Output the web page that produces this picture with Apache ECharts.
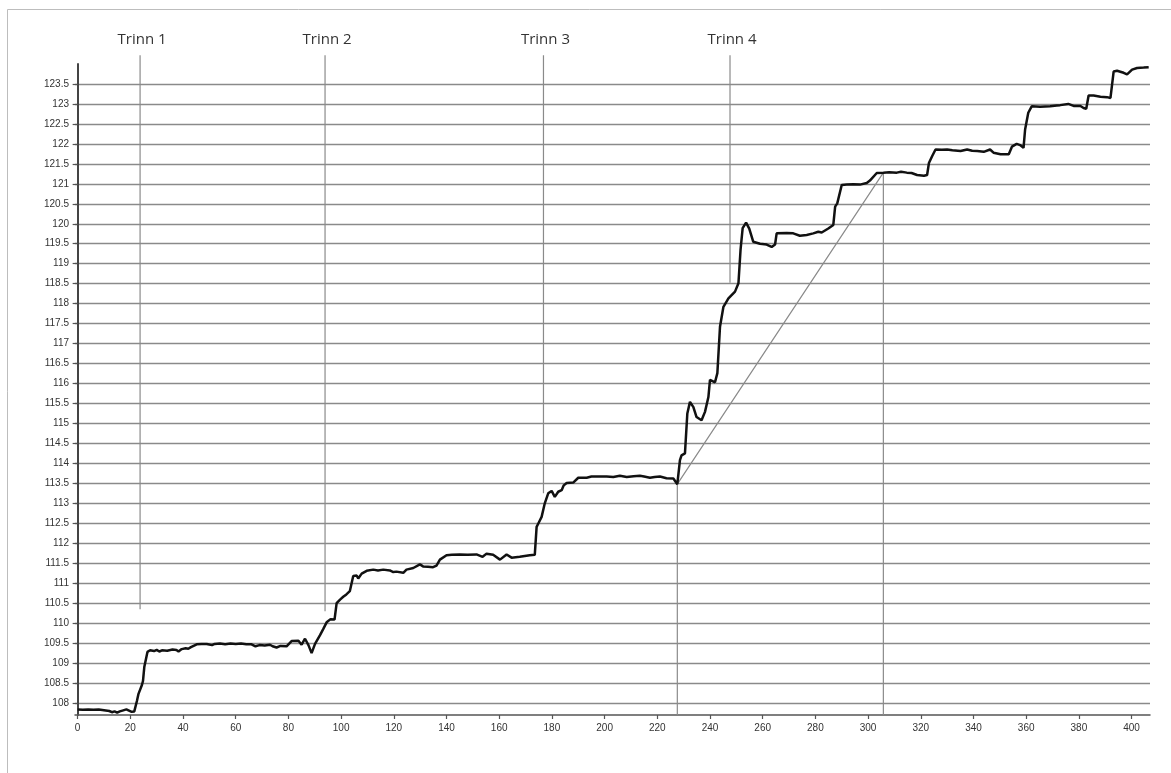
<!DOCTYPE html>
<html>
<head>
<meta charset="utf-8">
<title>Trinn</title>
<script src="https://cdn.jsdelivr.net/npm/echarts@6/dist/echarts.min.js"></script>
<style>
  html, body { margin: 0; padding: 0; background: #fff; }
  #chart { width: 1171px; height: 773px; }
</style>
</head>
<body>
<div id="chart"></div>
<script>
// Measured series: time (x) and reading (y)
const timeValues = [
  0, 2, 4, 6, 8, 10, 12, 13, 14, 15, 16, 17, 18.5, 19.5, 20.5, 21.5, 22.5, 23.1, 24.4, 24.8,
  25.3, 26.5, 27.5, 29, 30, 31, 32, 34, 36, 37.5, 38.3, 39.5, 41, 42, 43, 45.2, 47, 49, 51, 52,
  54, 56, 58, 60, 62, 64, 66, 67.5, 69, 71, 73, 74, 75.5, 77, 79.3, 81.2, 83.8, 85, 86.3, 87.6,
  88.8, 90.1, 92, 93.2, 94.5, 96, 97.5, 98.3, 99.6, 100.8, 102, 103.3, 104.6, 105.9, 106.5, 107.8, 109.7, 112.2, 114, 116,
  118.5, 119.8, 121, 123.6, 124.8, 127.4, 129.9, 131.1, 133, 134.9, 136.2, 137.5, 140, 142, 145, 148, 151.4, 153.7, 155.2, 157.7,
  160.3, 162.8, 164.7, 167.8, 171.6, 173.5, 174.2, 174.8, 176.1, 177.3, 178.6, 179.9, 181.1, 182.4, 183.7, 184.5, 185.6, 188.1, 190, 193.2,
  195, 198, 200.8, 203.3, 205.8, 208.4, 211, 213.4, 215, 217.2, 219, 221, 223.5, 226.1, 227.6, 228.6, 229.2, 230.5, 231.4, 232.4,
  233.7, 234.9, 236.8, 238.1, 239.4, 240, 241.9, 242.8, 243.8, 245.1, 247, 249.5, 250.8, 251.6, 252.4, 253.7, 254.9, 256.4, 259, 261.5,
  263.4, 264.7, 265.3, 269.1, 271.6, 274.1, 276.7, 279.2, 281.1, 282.4, 283, 284.9, 286.8, 287.5, 288.3, 290, 291.9, 294.4, 296.9, 299.5,
  300.7, 303.3, 305.8, 308, 310.9, 312.5, 314.7, 316.5, 318.6, 321.2, 322.4, 323.1, 324.3, 325.6, 328, 330, 332, 335.1, 337.6, 339.5,
  341.4, 343.9, 346.3, 347.6, 350.3, 353.4, 354.6, 356.4, 357.7, 359, 359.6, 360.8, 362.1, 365.3, 369.1, 371.6, 372.9, 376, 378, 380.6,
  381.8, 382.8, 383.7, 385.6, 388.2, 390.7, 392, 393.2, 394.5, 397, 398.3, 400.2, 402.1, 404.6, 406.5
];
const readings = [
  107.84, 107.83, 107.84, 107.83, 107.84, 107.82, 107.80, 107.77, 107.79, 107.76, 107.79, 107.81, 107.84, 107.81, 107.78, 107.79, 108.05, 108.23, 108.45, 108.55,
  108.90, 109.28, 109.32, 109.30, 109.33, 109.29, 109.32, 109.31, 109.34, 109.33, 109.29, 109.35, 109.37, 109.36, 109.40, 109.47, 109.48, 109.48, 109.45, 109.48,
  109.49, 109.47, 109.49, 109.48, 109.49, 109.47, 109.47, 109.42, 109.45, 109.44, 109.46, 109.42, 109.39, 109.43, 109.42, 109.55, 109.56, 109.46, 109.61, 109.45,
  109.25, 109.48, 109.70, 109.85, 110.02, 110.10, 110.09, 110.50, 110.59, 110.66, 110.72, 110.80, 111.18, 111.19, 111.12, 111.24, 111.31, 111.34, 111.32, 111.34,
  111.32, 111.28, 111.29, 111.26, 111.34, 111.38, 111.47, 111.42, 111.41, 111.40, 111.44, 111.59, 111.70, 111.71, 111.72, 111.71, 111.72, 111.66, 111.74, 111.71,
  111.59, 111.72, 111.64, 111.66, 111.70, 111.71, 112.41, 112.49, 112.66, 113.00, 113.25, 113.31, 113.16, 113.29, 113.33, 113.45, 113.51, 113.52, 113.64, 113.64,
  113.67, 113.67, 113.67, 113.66, 113.69, 113.66, 113.68, 113.69, 113.67, 113.64, 113.66, 113.67, 113.63, 113.62, 113.48, 114.08, 114.20, 114.25, 115.25, 115.54,
  115.41, 115.16, 115.08, 115.29, 115.66, 116.09, 116.03, 116.26, 117.42, 117.92, 118.13, 118.30, 118.51, 119.35, 119.89, 120.03, 119.88, 119.55, 119.50, 119.48,
  119.42, 119.48, 119.76, 119.77, 119.76, 119.70, 119.72, 119.76, 119.80, 119.78, 119.82, 119.88, 119.97, 120.43, 120.51, 120.97, 120.98, 120.99, 120.98, 121.02,
  121.08, 121.27, 121.28, 121.29, 121.28, 121.30, 121.28, 121.27, 121.22, 121.20, 121.22, 121.52, 121.69, 121.86, 121.85, 121.86, 121.84, 121.82, 121.86, 121.83,
  121.82, 121.80, 121.86, 121.78, 121.74, 121.74, 121.93, 122.00, 121.97, 121.90, 122.36, 122.78, 122.94, 122.93, 122.94, 122.96, 122.97, 123.00, 122.95, 122.95,
  122.90, 122.88, 123.21, 123.21, 123.18, 123.17, 123.15, 123.81, 123.83, 123.78, 123.74, 123.86, 123.90, 123.91, 123.92
];

// Stage markers
const stageNames = ['Trinn 1', 'Trinn 2', 'Trinn 3', 'Trinn 4'];
const stageTimes = [23.7, 93.9, 176.8, 247.6];
const stageLineEnds = [110.35, 110.3, 113.25, 118.52];

// Construction lines: vertical drop, diagonal, vertical drop
const helperTimes = [227.6, 227.6, 305.8, 305.8];
const helperValues = [107.7, 113.48, 121.28, 107.7];

// Axis ticks
const xTicks = [0, 20, 40, 60, 80, 100, 120, 140, 160, 180, 200, 220, 240, 260, 280, 300, 320, 340, 360, 380, 400];
const yTicks = [108, 108.5, 109, 109.5, 110, 110.5, 111, 111.5, 112, 112.5, 113, 113.5, 114, 114.5, 115, 115.5,
  116, 116.5, 117, 117.5, 118, 118.5, 119, 119.5, 120, 120.5, 121, 121.5, 122, 122.5, 123, 123.5];

const X_MIN = -1, X_MAX = 407, Y_MIN = 107.7, Y_MAX = 124;
const STAGE_LINE_TOP = 124.22;  // stage lines rise just above the plot
const STAGE_LABEL_Y = 124.6;

const mainData = timeValues.map((t, i) => [t, readings[i]]);
const helperData = helperTimes.map((t, i) => [t, helperValues[i]]);
const stageData = stageTimes.map((t, i) => [t, stageLineEnds[i], stageNames[i]]);

const chart = echarts.init(document.getElementById('chart'), null, { renderer: 'canvas' });

const axisTextStyle = { color: '#333', fontFamily: 'Liberation Sans, Arial, sans-serif', fontSize: 10 };

chart.setOption({
  backgroundColor: '#ffffff',
  animation: false,
  graphic: [{
    type: 'polyline',
    shape: { points: [[7.5, 800], [7.5, 9.5], [1200, 9.5]] },
    style: { stroke: '#bdbdbd', lineWidth: 1, fill: null },
    silent: true
  }],
  grid: { left: 75, right: 21, top: 64, bottom: 58 },
  xAxis: {
    type: 'value',
    min: X_MIN,
    max: X_MAX,
    axisLine: { show: true, onZero: false, lineStyle: { color: '#555', width: 1.5 } },
    axisTick: { show: true, customValues: xTicks, length: 4, lineStyle: { color: '#555', width: 1.2 } },
    axisLabel: { customValues: xTicks, margin: 8, ...axisTextStyle },
    splitLine: { show: false }
  },
  yAxis: {
    type: 'value',
    min: Y_MIN,
    max: Y_MAX,
    axisLine: { show: true, lineStyle: { color: '#444', width: 2 } },
    axisTick: { show: true, customValues: yTicks, length: 5, lineStyle: { color: '#555', width: 1.2 } },
    axisLabel: { customValues: yTicks, margin: 6, ...axisTextStyle },
    splitLine: { show: true, lineStyle: { color: '#8a8a8a', width: 1.3 } }
  },
  series: [
    {
      name: 'hjelpelinjer',
      type: 'line',
      data: helperData,
      symbol: 'none',
      lineStyle: { color: '#8a8a8a', width: 1.2 },
      z: 2,
      silent: true
    },
    {
      name: 'trinn',
      type: 'custom',
      data: stageData,
      clip: false,
      z: 3,
      silent: true,
      renderItem: function (params, api) {
        const x = api.value(0);
        const bottom = api.coord([x, api.value(1)]);
        const top = api.coord([x, STAGE_LINE_TOP]);
        const lbl = api.coord([x, STAGE_LABEL_Y]);
        return {
          type: 'group',
          children: [
            {
              type: 'line',
              shape: { x1: bottom[0], y1: bottom[1], x2: top[0], y2: top[1] },
              style: { stroke: '#8a8a8a', lineWidth: 1.2 }
            },
            {
              type: 'text',
              x: lbl[0] + 2,
              y: lbl[1],
              style: {
                text: stageNames[params.dataIndex],
                fill: '#333',
                font: '15px "Open Sans", sans-serif',
                align: 'center',
                verticalAlign: 'middle'
              }
            }
          ]
        };
      }
    },
    {
      name: 'måling',
      type: 'line',
      data: mainData,
      symbol: 'none',
      lineStyle: { color: '#111', width: 2.5 },
      z: 4,
      silent: true
    }
  ]
});
</script>
</body>
</html>
